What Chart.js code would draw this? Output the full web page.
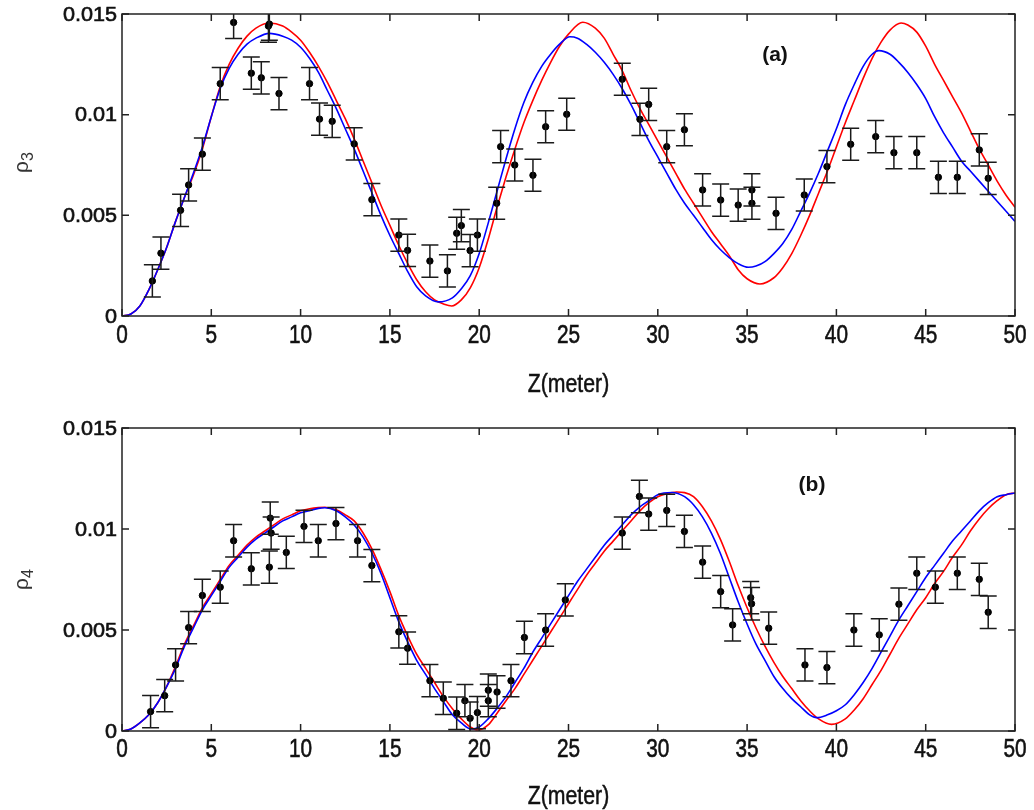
<!DOCTYPE html>
<html>
<head>
<meta charset="utf-8">
<script src="https://cdn.jsdelivr.net/npm/chart.js@4.4.0/dist/chart.umd.min.js"></script>
<style>
  body { margin: 0; background: #fff; }
  .panel { position: absolute; left: 0; width: 1034px; height: 405px; }
</style>
</head>
<body>
<div class="panel" style="top:0"><canvas id="rho3" width="1034" height="405"></canvas></div>
<div class="panel" style="top:405px"><canvas id="rho4" width="1034" height="405"></canvas></div>
<script>
// axis ticks
var zTicks = [0, 5, 10, 15, 20, 25, 30, 35, 40, 45, 50];
var rhoTicks = [0, 0.005, 0.01, 0.015];
var rhoLabels = ['0', '0.005', '0.01', '0.015'];

// (a) measured rho_3 with error bars
var zA = [1.70, 2.18, 3.28, 3.73, 4.50, 5.50, 6.25, 7.24, 7.80, 8.20, 8.25, 8.79, 10.50, 11.06, 11.77,
  13.00, 13.99, 15.50, 15.99, 17.24, 18.22, 18.74, 19.00, 19.49, 19.90, 20.98, 21.20, 21.99, 23.01, 23.72,
  24.90, 28.01, 29.00, 29.49, 30.50, 31.49, 32.51, 33.52, 34.50, 35.27, 35.27, 36.62, 38.20, 39.47, 40.80,
  42.20, 43.22, 44.50, 45.71, 46.77, 48.00, 48.50];
var rhoA = [0.00174, 0.00312, 0.00525, 0.00651, 0.00804, 0.01154, 0.01458, 0.01206, 0.01183, 0.01440,
  0.01450, 0.01105, 0.01154, 0.00978, 0.00967, 0.00855, 0.00578, 0.00402, 0.00326, 0.00273, 0.00224,
  0.00411, 0.00449, 0.00325, 0.00402, 0.00560, 0.00841, 0.00750, 0.00699, 0.00940, 0.01002, 0.01176,
  0.00977, 0.01051, 0.00841, 0.00925, 0.00626, 0.00576, 0.00551, 0.00626, 0.00560, 0.00510, 0.00601,
  0.00742, 0.00853, 0.00891, 0.00811, 0.00811, 0.00689, 0.00689, 0.00825, 0.00684];
var errA = [0.0008, 0.0008, 0.0008, 0.0008, 0.0008, 0.0008, 0.0008, 0.0008, 0.0008, 0.0008,
  0.0008, 0.0008, 0.0008, 0.0008, 0.0008, 0.0008, 0.0008, 0.0008, 0.0008, 0.0008,
  0.0008, 0.0008, 0.0008, 0.0008, 0.0008, 0.0008, 0.0008, 0.0008, 0.0008, 0.0008,
  0.0008, 0.0008, 0.0008, 0.0008, 0.0008, 0.0008, 0.0008, 0.0008, 0.0008, 0.0008,
  0.0008, 0.0008, 0.0008, 0.0008, 0.0008, 0.0008, 0.0008, 0.0008, 0.0008, 0.0008,
  0.0008, 0.0008];

// (a) model curves
var redAz = [0, 0.5, 1, 1.5, 2, 2.5, 3, 3.5, 4, 4.5, 5, 5.5, 6, 6.5, 7, 7.5, 8.25, 9, 9.5, 10,
  10.5, 11, 11.5, 12, 12.5, 13, 13.5, 14, 14.5, 15, 15.5, 16, 16.5, 17, 17.5, 18, 18.46, 19, 19.5, 20,
  20.5, 21, 21.5, 22, 22.5, 23, 23.5, 24, 24.5, 25, 25.8, 26.5, 27, 27.5, 28, 28.5, 29, 29.5, 30, 30.5,
  31, 31.5, 32, 32.5, 33, 33.5, 34, 34.5, 35, 35.72, 36.5, 37, 37.5, 38, 38.5, 39, 39.5, 40, 40.5, 41,
  41.5, 42, 42.5, 43, 43.62, 44, 44.5, 45, 45.5, 46, 46.5, 47, 47.5, 48, 48.5, 49, 49.5, 50];
var redArho = [0, 0.0001, 0.0005, 0.0013, 0.0023, 0.0034, 0.0047, 0.0059, 0.0070, 0.0083,
  0.0099, 0.0114, 0.0125, 0.0133, 0.0139, 0.0143, 0.01455, 0.0144, 0.0141, 0.0137,
  0.0131, 0.0124, 0.0116, 0.0107, 0.0098, 0.0088, 0.0077, 0.0066, 0.0055, 0.0045,
  0.0035, 0.0026, 0.0018, 0.0012, 0.0008, 0.0006, 0.0005, 0.0008, 0.0014, 0.0024,
  0.0038, 0.0054, 0.0069, 0.0083, 0.0096, 0.0107, 0.0117, 0.0126, 0.0134, 0.0140,
  0.01459, 0.0143, 0.0138, 0.0130, 0.0122, 0.0112, 0.0103, 0.0095, 0.0087, 0.0079,
  0.0071, 0.0063, 0.0056, 0.0049, 0.0042, 0.0036, 0.0030, 0.0023, 0.00185, 0.00159,
  0.0019, 0.0024, 0.0031, 0.0040, 0.0050, 0.0061, 0.0072, 0.0084, 0.0096, 0.0107,
  0.0118, 0.0128, 0.0136, 0.0142, 0.01455, 0.01445, 0.0141, 0.0134, 0.0125, 0.0117,
  0.0109, 0.0101, 0.0092, 0.0083, 0.0075, 0.0067, 0.0060, 0.0054];
var blueAz = [0, 0.5, 1, 1.5, 2, 2.5, 3, 3.5, 4, 4.5, 5, 5.5, 6, 6.5, 7, 7.5, 8.25, 9, 9.5, 10,
  10.5, 11, 11.5, 12, 12.5, 13, 13.5, 14, 14.5, 15, 15.5, 16, 16.5, 17, 17.71,
  18.5, 19, 19.5, 20, 20.5, 21, 21.5, 22, 22.5, 23, 23.5, 24, 24.5, 25.08,
  25.5, 26, 26.5, 27, 27.5, 28, 28.5, 29, 29.5, 30, 30.5, 31, 31.5, 32, 32.5, 33, 33.5, 34, 34.5, 35.07,
  35.5, 36, 36.5, 37, 37.5, 38, 38.5, 39, 39.5, 40, 40.5, 41, 41.5, 42, 42.38,
  43, 43.5, 44, 44.5, 45, 45.5, 46, 46.5, 47, 47.5, 48, 48.5, 49, 49.5, 50];
var blueArho = [0, 0.0001, 0.0005, 0.0013, 0.0023, 0.0034, 0.0047, 0.0059, 0.0071, 0.0084,
  0.0099, 0.0113, 0.0123, 0.0130, 0.0135, 0.0138, 0.01404, 0.0139, 0.0137, 0.01335,
  0.0128, 0.0121, 0.0112, 0.0103, 0.0093, 0.0083, 0.0072, 0.0061, 0.0050, 0.0040,
  0.0031, 0.0022, 0.00145, 0.0010, 0.0007,
  0.0009, 0.00135, 0.0020, 0.0031, 0.0046, 0.0062, 0.0078, 0.0093, 0.0106, 0.0116, 0.0124, 0.0130, 0.0135,
  0.01387,
  0.0138, 0.0135, 0.0131, 0.0126, 0.0120, 0.0113, 0.0105, 0.0096, 0.0087, 0.0079, 0.0071, 0.0063, 0.0056,
  0.0050, 0.0044, 0.0038, 0.0033, 0.0029, 0.0026, 0.00242,
  0.00248, 0.0027, 0.0031, 0.0036, 0.0043, 0.0052, 0.0061, 0.0071, 0.0082, 0.0093, 0.0105, 0.0115,
  0.0124, 0.0130, 0.01318,
  0.0130, 0.0126, 0.0121, 0.0115, 0.0108, 0.0099, 0.0091, 0.0084, 0.0077, 0.0072, 0.0067, 0.0062,
  0.0057, 0.0052, 0.0047];

// (b) measured rho_4 with error bars
var zB = [1.60, 2.39, 3.00, 3.73, 4.50, 5.50, 6.25, 7.24, 8.25, 8.30, 8.35, 9.20, 10.19, 10.99, 11.98,
  13.19, 13.99, 15.50, 15.99, 17.24, 17.99, 18.74, 19.20, 19.49, 19.90, 20.51, 20.51, 21.00, 21.78, 22.53,
  23.72, 24.82, 28.01, 28.97, 29.49, 30.50, 31.49, 32.51, 33.52, 34.19, 35.20, 35.25, 36.21, 38.24, 39.47,
  40.98, 42.40, 43.50, 44.50, 45.54, 46.77, 48.00, 48.50];
var rhoB = [0.00096, 0.00175, 0.00327, 0.00512, 0.00671, 0.00712, 0.00942, 0.00803, 0.00811, 0.01054,
  0.00980, 0.00884, 0.01013, 0.00942, 0.01027, 0.00942, 0.00819, 0.00491, 0.00410, 0.00249, 0.00162,
  0.00088, 0.00150, 0.00063, 0.00091, 0.00202, 0.00150, 0.00193, 0.00249, 0.00463, 0.00500, 0.00649,
  0.00980, 0.01161, 0.01074, 0.01092, 0.00988, 0.00836, 0.00690, 0.00525, 0.00660, 0.00630, 0.00509,
  0.00327, 0.00314, 0.00500, 0.00476, 0.00628, 0.00781, 0.00712, 0.00781, 0.00751, 0.00588];
var errB = [0.0008, 0.0008, 0.0008, 0.0008, 0.0008, 0.0008, 0.0008, 0.0008, 0.0008, 0.0008,
  0.0008, 0.0008, 0.0008, 0.0008, 0.0008, 0.0008, 0.0008, 0.0008, 0.0008, 0.0008,
  0.0008, 0.0008, 0.0008, 0.0008, 0.0008, 0.0008, 0.0008, 0.0008, 0.0008, 0.0008,
  0.0008, 0.0008, 0.0008, 0.0008, 0.0008, 0.0008, 0.0008, 0.0008, 0.0008, 0.0008,
  0.0008, 0.0008, 0.0008, 0.0008, 0.0008, 0.0008, 0.0008, 0.0008, 0.0008, 0.0008,
  0.0008, 0.0008, 0.0008];

// (b) model curves
var redBz = [0, 0.5, 1, 1.5, 2, 2.5, 3, 3.5, 4, 4.5, 5, 5.5, 6, 6.5, 7, 7.5, 8, 8.5, 9, 9.5, 10, 10.5, 11,
  11.36, 12, 12.5, 13, 13.5, 14, 14.5, 15, 15.5, 16, 16.5, 17, 17.5, 18, 18.5, 19, 19.5, 19.93,
  20.5, 21, 21.5, 22, 22.5, 23, 23.5, 24, 24.5, 25, 25.5, 26, 26.5, 27, 27.5, 28, 28.5, 29, 29.5, 30, 30.5,
  31.06, 31.5, 32, 32.5, 33, 33.5, 34, 34.5, 35, 35.5, 36, 36.5, 37, 37.5, 38, 38.5, 39, 39.73,
  40.5, 41, 41.5, 42, 42.5, 43, 43.5, 44, 44.5, 45, 45.5, 46, 46.5, 47, 47.5, 48, 48.5, 49, 49.5, 50];
var redBrho = [0, 0.0001, 0.0004, 0.0008, 0.0014, 0.0022, 0.0032, 0.0043, 0.0052, 0.0061, 0.0068, 0.0075,
  0.0082, 0.0087, 0.0092, 0.0096, 0.0099, 0.0102, 0.0105, 0.0107, 0.0109, 0.0110, 0.01106,
  0.01108, 0.01095, 0.0107, 0.0104, 0.0098, 0.0090, 0.0080, 0.0069, 0.0057, 0.0047, 0.0038, 0.0031,
  0.0024, 0.0017, 0.0011, 0.0006, 0.0002, 0.00005,
  0.0003, 0.00088, 0.0015, 0.0021, 0.0028, 0.0035, 0.0042, 0.0049, 0.0056, 0.0063, 0.0070, 0.0077,
  0.0083, 0.0089, 0.0094, 0.0099, 0.0104, 0.0109, 0.0113, 0.0116, 0.01175,
  0.01183, 0.0118, 0.0116, 0.0111, 0.0104, 0.0095, 0.0084, 0.0072, 0.0061, 0.0051, 0.0042, 0.0034,
  0.0027, 0.0021, 0.0015, 0.0010, 0.0006, 0.00033,
  0.0006, 0.00104, 0.0016, 0.0023, 0.0030, 0.0038, 0.0046, 0.0053, 0.0060, 0.0066, 0.0073, 0.0079,
  0.0086, 0.0092, 0.0099, 0.0105, 0.0110, 0.0114, 0.0117, 0.01178];
var blueBz = [0, 0.5, 1, 1.5, 2, 2.5, 3, 3.5, 4, 4.5, 5, 5.5, 6, 6.5, 7, 7.5, 8, 8.5, 9, 9.5, 10, 10.5, 11,
  11.36, 12, 12.5, 13, 13.5, 14, 14.5, 15, 15.5, 16, 16.5, 17, 17.5, 18, 18.5, 19, 19.55,
  20, 20.5, 21, 21.5, 22, 22.5, 23, 23.5, 24, 24.5, 25, 25.5, 26, 26.5, 27, 27.5, 28, 28.5, 29, 29.5, 30,
  30.78, 31.5, 32, 32.5, 33, 33.5, 34, 34.5, 35, 35.5, 36, 36.5, 37, 37.5, 38, 38.5, 38.89,
  39.5, 40, 40.5, 41, 41.5, 42, 42.5, 43, 43.5, 44, 44.5, 45, 45.5, 46, 46.5, 47, 47.5, 48, 48.5, 49, 49.5, 50];
var blueBrho = [0, 0.0001, 0.0004, 0.0008, 0.0014, 0.0022, 0.0031, 0.0042, 0.0051, 0.0060, 0.0067, 0.0074,
  0.0081, 0.0086, 0.0091, 0.0095, 0.0098, 0.0101, 0.0104, 0.0106, 0.0108, 0.0109, 0.01102,
  0.01105, 0.0109, 0.0106, 0.0102, 0.0096, 0.0088, 0.0078, 0.0066, 0.0054, 0.0044, 0.0035, 0.0028,
  0.0021, 0.00145, 0.0008, 0.0004, 0.0001,
  0.0002, 0.0006, 0.00112, 0.0017, 0.0024, 0.0031, 0.0039, 0.0046, 0.0053, 0.0060, 0.0067, 0.0074,
  0.0080, 0.0086, 0.0092, 0.0097, 0.0102, 0.0107, 0.0111, 0.0114, 0.0117,
  0.01181, 0.0116, 0.0112, 0.0106, 0.0098, 0.0088, 0.0076, 0.0064, 0.0053, 0.0043, 0.0035, 0.0027,
  0.0021, 0.0016, 0.0012, 0.0008, 0.00066,
  0.0008, 0.0010, 0.0013, 0.0018, 0.0024, 0.0031, 0.0039, 0.0047, 0.0055, 0.0062, 0.0069, 0.0076,
  0.0082, 0.0088, 0.0094, 0.0099, 0.0104, 0.0109, 0.0113, 0.0116, 0.0117, 0.01178];

var sans = "'Liberation Sans', Arial, Helvetica, sans-serif";

function pairs(xs, ys) {
  var out = [];
  for (var i = 0; i < xs.length; i++) out.push({ x: xs[i], y: ys[i] });
  return out;
}

// text squeezed or stretched sideways, with a thin outline to darken it
function stretchText(ctx, txt, x, y, sx, heavy) {
  ctx.save();
  ctx.translate(x, y);
  ctx.scale(sx, 1);
  ctx.fillText(txt, 0, 0);
  if (heavy) {
    ctx.lineWidth = heavy;
    ctx.strokeStyle = ctx.fillStyle;
    ctx.strokeText(txt, 0, 0);
  }
  ctx.restore();
}

// vertical error bars with caps, clipped to the plot box
var errorBars = {
  id: 'errorBars',
  afterDatasetsDraw: function(chart) {
    var ctx = chart.ctx, xs = chart.scales.x, ys = chart.scales.y, a = chart.chartArea;
    ctx.save();
    ctx.beginPath();
    ctx.rect(a.left, a.top, a.right - a.left, a.bottom - a.top);
    ctx.clip();
    ctx.strokeStyle = '#1a1a1a';
    ctx.lineWidth = 1.5;
    chart.data.datasets.forEach(function(ds) {
      if (!ds.err) return;
      ds.data.forEach(function(p, i) {
        var px = xs.getPixelForValue(p.x);
        var top = ys.getPixelForValue(p.y + ds.err[i]);
        var bot = ys.getPixelForValue(p.y - ds.err[i]);
        ctx.beginPath();
        ctx.moveTo(px, top); ctx.lineTo(px, bot);
        ctx.moveTo(px - 8.5, top); ctx.lineTo(px + 8.5, top);
        ctx.moveTo(px - 8.5, bot); ctx.lineTo(px + 8.5, bot);
        ctx.stroke();
      });
    });
    ctx.restore();
  }
};

// box, inward ticks on every side, tick labels, titles and panel tag
var frame = {
  id: 'frame',
  afterDraw: function(chart, args, o) {
    var ctx = chart.ctx, xs = chart.scales.x, ys = chart.scales.y, a = chart.chartArea;
    ctx.save();
    ctx.strokeStyle = '#222';
    ctx.lineWidth = 1.5;
    ctx.strokeRect(a.left, a.top, a.right - a.left, a.bottom - a.top);
    ctx.beginPath();
    zTicks.forEach(function(v) {
      var px = xs.getPixelForValue(v);
      ctx.moveTo(px, a.bottom); ctx.lineTo(px, a.bottom - 7);
      ctx.moveTo(px, a.top); ctx.lineTo(px, a.top + 7);
    });
    rhoTicks.forEach(function(v) {
      var py = ys.getPixelForValue(v);
      ctx.moveTo(a.left, py); ctx.lineTo(a.left + 7, py);
      ctx.moveTo(a.right, py); ctx.lineTo(a.right - 7, py);
    });
    ctx.stroke();

    ctx.fillStyle = '#111';
    ctx.textBaseline = 'middle';

    // tick labels
    ctx.textAlign = 'center';
    ctx.font = '26px ' + sans;
    zTicks.forEach(function(v) {
      stretchText(ctx, String(v), xs.getPixelForValue(v), a.bottom + o.tickGap, 0.8, 0.6);
    });
    ctx.textAlign = 'right';
    ctx.font = '20px ' + sans;
    rhoTicks.forEach(function(v, i) {
      stretchText(ctx, rhoLabels[i], a.left - 5, ys.getPixelForValue(v) + 1, 1.08, 0.6);
    });

    // axis title and panel tag
    ctx.textAlign = 'center';
    ctx.font = '25px ' + sans;
    stretchText(ctx, 'Z(meter)', (a.left + a.right) / 2, o.titleY, 0.85, 0.5);
    ctx.font = 'bold 21px ' + sans;
    ctx.fillText(o.tag, o.tagX, o.tagY);

    ctx.fillStyle = '#333';
    ctx.translate(22, o.rhoY);
    ctx.rotate(-Math.PI / 2);
    ctx.font = '21px ' + sans;
    ctx.textAlign = 'right';
    ctx.fillText('\u03c1', 2, 0);
    ctx.font = '16px ' + sans;
    ctx.textAlign = 'left';
    ctx.fillText(o.sub, 2, 7);
    ctx.restore();
  }
};

function makePanel(id, p) {
  return new Chart(document.getElementById(id), {
    type: 'line',
    data: {
      datasets: [
        { type: 'scatter', data: pairs(p.z, p.rho), err: p.err, showLine: false,
          pointRadius: 3.2, pointHoverRadius: 3.2, backgroundColor: '#000', borderColor: '#000' },
        { data: pairs(p.blueZ, p.blueRho), borderColor: '#0000ff', borderWidth: 1.6,
          pointRadius: 0, cubicInterpolationMode: 'monotone', fill: false },
        { data: pairs(p.redZ, p.redRho), borderColor: '#ff0000', borderWidth: 1.6,
          pointRadius: 0, cubicInterpolationMode: 'monotone', fill: false }
      ]
    },
    options: {
      responsive: false,
      animation: false,
      devicePixelRatio: 1,
      layout: { padding: { top: p.top, right: 19, left: 0, bottom: 0 } },
      plugins: {
        legend: { display: false },
        tooltip: { enabled: false },
        frame: p.frame
      },
      scales: {
        x: {
          type: 'linear', min: 0, max: 50,
          grid: { display: false, drawTicks: false },
          border: { display: false },
          afterBuildTicks: function(s) { s.ticks = zTicks.map(function(v) { return { value: v }; }); },
          afterFit: function(s) { s.height = p.xAxisHeight; },
          ticks: { display: false }
        },
        y: {
          type: 'linear', min: 0, max: 0.015,
          grid: { display: false, drawTicks: false },
          border: { display: false },
          afterBuildTicks: function(s) { s.ticks = rhoTicks.map(function(v) { return { value: v }; }); },
          afterFit: function(s) { s.width = 122; },
          ticks: { display: false }
        }
      }
    },
    plugins: [errorBars, frame]
  });
}

makePanel('rho3', {
  z: zA, rho: rhoA, err: errA,
  redZ: redAz, redRho: redArho, blueZ: blueAz, blueRho: blueArho,
  top: 14, xAxisHeight: 89,
  frame: { tickGap: 20, titleY: 385, tag: '(a)', tagX: 775, tagY: 55, rhoY: 163, sub: '3' }
});

makePanel('rho4', {
  z: zB, rho: rhoB, err: errB,
  redZ: redBz, redRho: redBrho, blueZ: blueBz, blueRho: blueBrho,
  top: 23, xAxisHeight: 79,
  frame: { tickGap: 19, titleY: 392, tag: '(b)', tagX: 812, tagY: 80, rhoY: 175, sub: '4' }
});
</script>
</body>
</html>
